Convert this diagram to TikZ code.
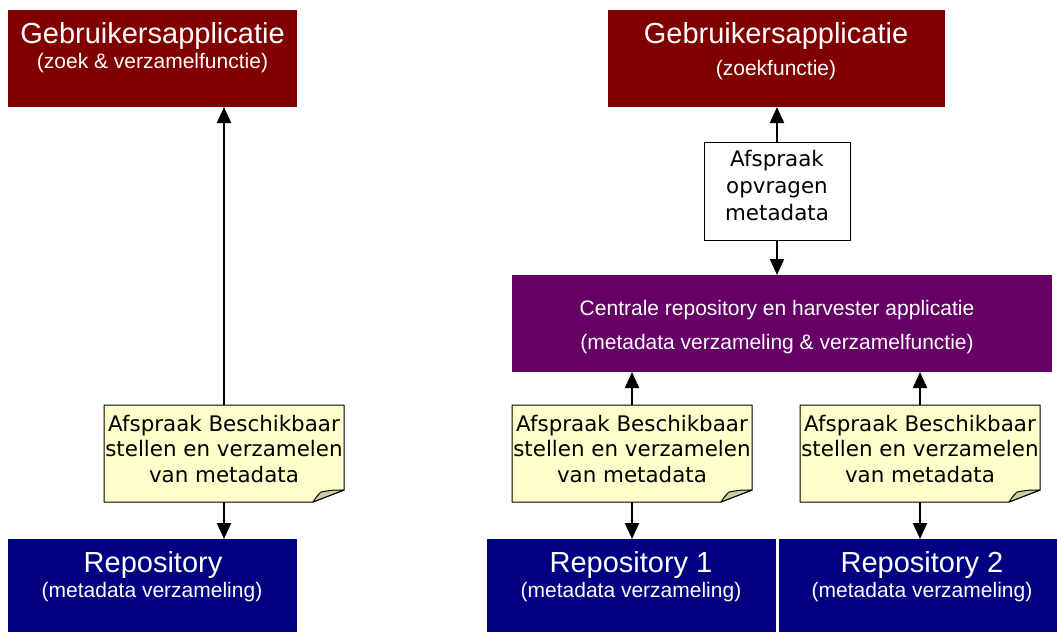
\documentclass[tikz,border=0pt]{standalone}
\usepackage{fontspec}
\setmainfont{Liberation Sans}
\newfontfamily\notefont{DejaVu Sans}
\usetikzlibrary{arrows.meta}
\definecolor{appred}{HTML}{800000}
\definecolor{reponavy}{HTML}{000080}
\definecolor{centpurple}{HTML}{660066}
\definecolor{notefill}{HTML}{FFFFCC}
\definecolor{foldfill}{HTML}{CCCBA2}
\tikzset{
  box/.style={rectangle, inner sep=0pt, outer sep=0pt},
  appbox/.style={box, fill=appred},
  repobox/.style={box, fill=reponavy},
  centbox/.style={box, fill=centpurple},
  notebox/.style={box, minimum width=240pt, minimum height=97pt},
  plainbox/.style={box, draw=black, line width=1pt, fill=white, minimum width=146pt, minimum height=98pt},
  title/.style={text=white, anchor=base, inner sep=0pt, font=\fontsize{29}{33}\selectfont},
  sub/.style={text=white, anchor=base, inner sep=0pt, font=\fontsize{21}{25}\selectfont},
  notetxt/.style={text=black, anchor=base, inner sep=0pt, font=\notefont\fontsize{21.4}{25}\selectfont},
  arr/.style={line width=2pt, -{Triangle[length=16pt,width=14pt]}},
  noteline/.style={draw=black, line width=1pt, fill=notefill, line join=round},
  foldline/.style={draw=black, line width=1pt, fill=foldfill, line join=round},
}
\newcommand{\drawnote}[1]{%
  \path[noteline] (#1.north west) -- (#1.north east) -- ([yshift=12pt]#1.south east)
     -- ([xshift=-31pt]#1.south east) -- (#1.south west) -- cycle;
  \path[foldline] ([xshift=-31pt]#1.south east) .. controls ([xshift=-27pt,yshift=6pt]#1.south east) .. ([xshift=-23pt,yshift=10pt]#1.south east)
     .. controls ([xshift=-12pt,yshift=12pt]#1.south east) .. ([yshift=12pt]#1.south east) -- cycle;
}
\begin{document}
\begin{tikzpicture}[x=1pt,y=-1pt]
\useasboundingbox (0,0) rectangle (1057,632);

% boxes
\node[appbox, minimum width=289pt, minimum height=97pt] (top1) at (152.5,58.5) {};
\node[appbox, minimum width=337pt, minimum height=97pt] (top2) at (776.5,58.5) {};
\node[centbox, minimum width=540pt, minimum height=97pt] (cent) at (782,323.5) {};
\node[repobox, minimum width=289pt, minimum height=93pt] (rep0) at (152.5,585.5) {};
\node[repobox, minimum width=289pt, minimum height=93pt] (rep1) at (631.5,585.5) {};
\node[repobox, minimum width=286pt, minimum height=93pt] (rep2) at (922,585.5) {};
\node[plainbox] (ops) at (777,191) {};

% notes
\node[notebox] (n0) at (224,453.5) {};
\node[notebox] (n1) at (632,453.5) {};
\node[notebox] (n2) at (920,453.5) {};
\drawnote{n0}
\drawnote{n1}
\drawnote{n2}

% texts
\node[title] (t1a) at (152.5,43) {Gebruikersapplicatie};
\node[sub] (t1b) at (152.5,68) {(zoek \& verzamelfunctie)};
\node[title] (t2a) at (776,43) {Gebruikersapplicatie};
\node[sub] (t2b) at (776,75) {(zoekfunctie)};
\node[sub] (tca) at (777,315) {Centrale repository en harvester applicatie};
\node[sub] (tcb) at (777,349) {(metadata verzameling \& verzamelfunctie)};
\node[title] (r0a) at (153,572) {Repository};
\node[sub] (r0b) at (152,597) {(metadata verzameling)};
\node[title] (r1a) at (631,572) {Repository 1};
\node[sub] (r1b) at (631,597) {(metadata verzameling)};
\node[title] (r2a) at (922,572) {Repository 2};
\node[sub] (r2b) at (922,597) {(metadata verzameling)};

\node[notetxt] (oa) at (777,166) {Afspraak};
\node[notetxt] (ob) at (777,193) {opvragen};
\node[notetxt] (oc) at (777,220) {metadata};

\foreach \n in {n0,n1,n2}{
  \node[notetxt] (\n a) at ([yshift=-26pt]\n.north) {Afspraak Beschikbaar};
  \node[notetxt] (\n b) at ([yshift=-51.5pt]\n.north) {stellen en verzamelen};
  \node[notetxt] (\n c) at ([yshift=-77pt]\n.north) {van metadata};
}

% connectors
\draw[arr] (n0.north) -- (n0.north |- top1.south);
\draw[arr] (n0.south) -- (n0.south |- rep0.north);
\draw[arr] (n1.north) -- (n1.north |- cent.south);
\draw[arr] (n1.south) -- (n1.south |- rep1.north);
\draw[arr] (n2.north) -- (n2.north |- cent.south);
\draw[arr] (n2.south) -- (n2.south |- rep2.north);
\draw[arr] (ops.north) -- (ops.north |- top2.south);
\draw[arr] (ops.south) -- (ops.south |- cent.north);
\end{tikzpicture}
\end{document}
